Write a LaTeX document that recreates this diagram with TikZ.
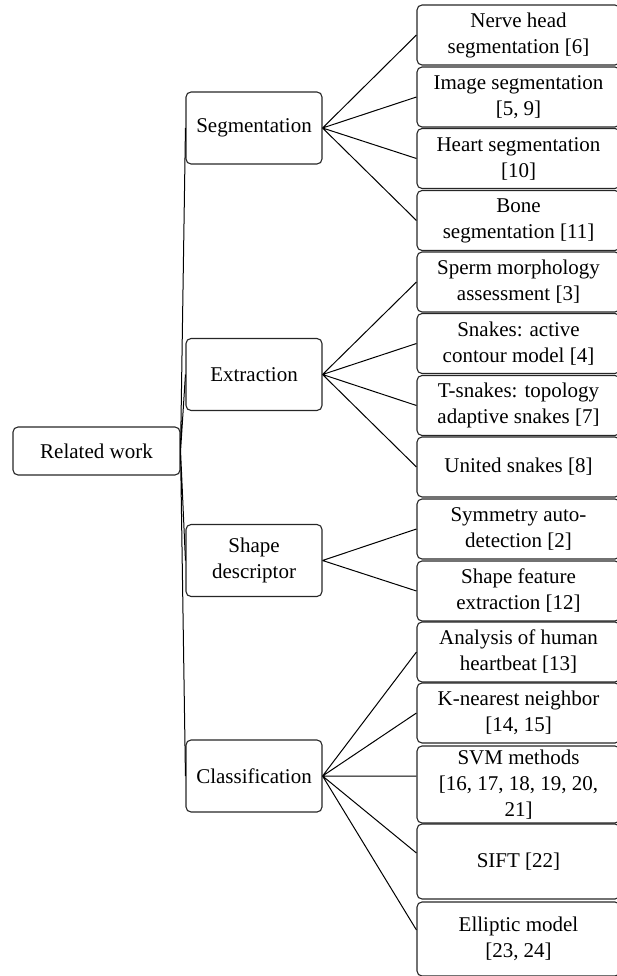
\documentclass[tikz,border=0pt]{standalone}
\usepackage{fontspec}
\setmainfont{Liberation Serif}
\begin{document}
\begin{tikzpicture}[x=1pt,y=-1pt]
\tikzstyle{every node}=[draw=black!85,rounded corners=5pt,line width=1.1pt,align=center,inner sep=0pt,font=\fontsize{21}{26}\selectfont];
\tikzstyle{root}=[minimum width=167pt,minimum height=48pt];
\tikzstyle{topic}=[minimum width=136pt,minimum height=72pt];
\tikzstyle{paper}=[minimum width=203pt,minimum height=60pt];
\useasboundingbox (0,0) rectangle (617,976);
\clip (0,0) rectangle (617,976);
% root and topics
\node [root] (rw) at (96.5,451) {Related work};
\node [topic] (seg) at (254,128) {Segmentation};
\node [topic] (ext) at (254,374.5) {Extraction};
\node [topic] (shp) at (254,560.5) {Shape\\descriptor};
\node [topic] (cls) at (254,776) {Classification};
% papers
\node [paper] (p1) at (518.5,35) {Nerve head\\segmentation [6]};
\node [paper] (p2) at (518.5,97) {Image segmentation\\{}[5, 9]};
\node [paper] (p3) at (518.5,158.5) {Heart segmentation\\{}[10]};
\node [paper] (p4) at (518.5,220.5) {Bone\\segmentation [11]};
\node [paper] (p5) at (518.5,282) {Sperm morphology\\assessment [3]};
\node [paper] (p6) at (518.5,343.5) {Snakes: active\\contour model [4]};
\node [paper] (p7) at (518.5,405.5) {T-snakes: topology\\adaptive snakes [7]};
\node [paper] (p8) at (518.5,467) {United snakes [8]};
\node [paper] (p9) at (518.5,529) {Symmetry auto-\\detection [2]};
\node [paper] (p10) at (518.5,591) {Shape feature\\extraction [12]};
\node [paper] (p11) at (518.5,652) {Analysis of human\\heartbeat [13]};
\node [paper] (p12) at (518.5,713) {K-nearest neighbor\\{}[14, 15]};
\node [paper,minimum height=77pt] (p13) at (518.5,784.5) {SVM methods\\{}[16, 17, 18, 19, 20,\\21]};
\node [paper,minimum height=75pt] (p14) at (518.5,861.5) {SIFT [22]};
\node [paper,minimum height=74pt] (p15) at (518.5,939) {Elliptic model\\{}[23, 24]};
\draw [line width=1pt] (rw.east) -- (seg.west) % tree
(rw.east) -- (ext.west)
(rw.east) -- (shp.west)
(rw.east) -- (cls.west);
\draw [line width=1pt] (seg.east) -- (p1.west)
(seg.east) -- (p2.west)
(seg.east) -- (p3.west)
(seg.east) -- (p4.west)
(ext.east) -- (p5.west)
(ext.east) -- (p6.west)
(ext.east) -- (p7.west)
(ext.east) -- (p8.west)
(shp.east) -- (p9.west)
(shp.east) -- (p10.west)
(cls.east) -- (p11.west)
(cls.east) -- (p12.west)
(cls.east) -- ([yshift=8.5pt]p13.west)
(cls.east) -- ([yshift=8.5pt]p14.west)
(cls.east) -- ([yshift=9pt]p15.west);
\end{tikzpicture}
\end{document}
